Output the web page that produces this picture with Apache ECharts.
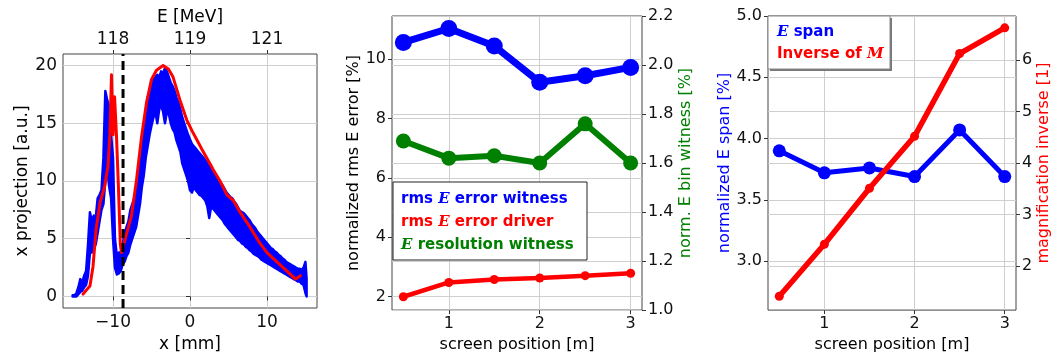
<!DOCTYPE html>
<html><head><meta charset="utf-8">
<script src="https://cdn.jsdelivr.net/npm/echarts@6/dist/echarts.min.js"></script>
<style>html,body{margin:0;padding:0;background:#fff}#c{width:1062px;height:358px}</style>
</head><body><div id="c"></div>
<script>
// ---------- Panel 1: x projection (measured, noisy -> drawn as min/max band) ----------
const bandX = [-15.25,-15,-14.75,-14.5,-14.25,-14,-13.75,-13.5,-13.25,-13,-12.75,-12.5,-12.25,-12,-11.75,-11.5,-11.25,-11,-10.75,-10.5,-10.25,-10,-9.75,-9.5,-9.25,-9,-8.75,-8.5,-8.25,-8,-7.75,-7.5,-7.25,-7,-6.75,-6.5,-6.25,-6,-5.75,-5.5,-5.25,-5,-4.75,-4.5,-4.25,-4,-3.75,-3.5,-3.25,-3,-2.75,-2.5,-2.25,-2,-1.75,-1.5,-1.25,-1,-0.75,-0.5,-0.25,0,0.25,0.5,0.75,1,1.25,1.5,1.75,2,2.25,2.5,2.75,3,3.25,3.5,3.75,4,4.25,4.5,4.75,5,5.25,5.5,5.75,6,6.25,6.5,6.75,7,7.25,7.5,7.75,8,8.25,8.5,8.75,9,9.25,9.5,9.75,10,10.25,10.5,10.75,11,11.25,11.5,11.75,12,12.25,12.5,12.75,13,13.25,13.5,13.75,14,14.25,14.5,14.75,15,15.15];
const bandLow = [0,0,0,0.2,0.4,0.5,0.8,1.0,1.8,3.8,3.8,4.2,4.5,5.5,6.5,7.5,8.0,10.0,11.0,9.5,8.5,5.0,2.5,1.9,2.0,2.2,2.8,3.0,3.5,3.8,4.5,5.0,5.5,6.0,7.0,8.0,9.5,10.5,12.0,13.0,14.0,14.8,15.5,16.0,15.0,16.2,16.5,16.0,15.0,16.0,15.8,15.0,14.5,14.2,13.5,13.0,12.5,11.5,11.0,10.5,10.0,9.2,9.0,9.5,9.2,9.0,8.8,8.7,8.5,8.3,7.8,6.8,7.8,7.6,7.4,7.2,7.0,6.8,6.6,6.3,6.1,5.9,5.7,5.5,5.3,5.1,4.9,4.8,4.6,4.5,4.3,4.2,4.0,3.9,3.7,3.6,3.5,3.4,3.2,3.1,3.0,2.9,2.8,2.7,2.6,2.5,2.4,2.3,2.2,2.1,2.0,1.9,1.8,1.7,1.6,1.5,1.4,1.3,1.3,1.1,1.0,0.3,0];
const bandHigh = [0.1,0.1,0.3,0.8,1.5,1.2,1.8,2.2,4.5,7.3,6.5,7.0,6.8,8.5,8.8,9.2,12.0,17.8,17.0,16.5,14.0,12.0,5.0,3.5,3.8,3.8,4.5,5.5,6.0,6.5,7.5,8.0,8.5,9.0,10.0,11.5,13.0,14.5,16.0,17.2,17.8,18.5,18.8,19.0,19.2,19.0,19.5,19.3,19.8,19.5,19.0,18.5,18.2,17.8,17.2,16.8,16.2,15.5,15.0,14.5,14.0,13.6,13.2,13.0,12.8,12.6,12.4,12.2,12.0,11.8,11.5,11.3,11.0,10.8,10.6,10.3,10.0,9.8,9.6,9.3,9.0,8.8,8.6,8.5,8.2,8.0,7.7,7.4,7.3,7.2,7.0,6.8,6.6,6.3,6.1,5.9,5.6,5.4,5.2,5.0,4.8,4.6,4.4,4.2,4.1,3.9,3.8,3.6,3.5,3.3,3.2,3.0,2.9,2.8,2.7,2.6,2.5,2.4,2.4,2.3,2.5,3.0,1.5,0.2];
const projRed = [[-13.9,0.2],[-13.4,0.6],[-13.0,0.9],[-12.6,2.6],[-12.2,5.8],[-11.7,8.1],[-11.1,9.5],[-10.65,11.3],[-10.4,14.2],[-10.2,19.2],[-10.0,14.0],[-9.8,17.3],[-9.55,13.9],[-9.3,9.5],[-9.05,4.5],[-8.9,3.8],[-8.25,5.4],[-7.6,7.0],[-6.95,10.1],[-6.3,13.8],[-5.65,16.8],[-5.0,18.8],[-4.35,19.6],[-3.5,20.0],[-2.8,19.7],[-2.2,19.0],[-1.3,17.0],[-0.43,15.3],[0.3,14.3],[0.87,13.6],[1.5,12.8],[2.6,11.5],[3.0,11.0],[3.9,10.0],[4.8,8.8],[5.65,8.3],[6.5,7.3],[7.8,6.0],[8.9,4.8],[10,3.8],[11.3,3.0],[12.6,2.2],[13.7,1.5],[14.35,1.8]];
const cutX = -8.7;
const projXTicks = [-10, 0, 10];
const projYTicks = [0, 5, 10, 15, 20];
const energyTickPos = [-10, 0, 10];
const energyTickLabels = ['118', '119', '121'];

// ---------- Panel 2: rms error ----------
const screenPos = [0.5, 1, 1.5, 2, 2.5, 3];
const rmsWitness = [10.56, 11.03, 10.44, 9.22, 9.44, 9.72];
const rmsDriver = [2.0, 2.48, 2.58, 2.63, 2.71, 2.79];
const resWitness = [1.69, 1.62, 1.63, 1.60, 1.76, 1.60];
const midLeftTicks = [2, 4, 6, 8, 10];
const midRightTicks = [1.0, 1.2, 1.4, 1.6, 1.8, 2.0, 2.2];
const screenTicks = [1, 2, 3];

// ---------- Panel 3: span / magnification ----------
const eSpan = [3.9, 3.72, 3.76, 3.69, 4.07, 3.69];
const invM = [1.41, 2.42, 3.51, 4.52, 6.13, 6.63];
const spanTicks = [3.0, 3.5, 4.0, 4.5, 5.0];
const magTicks = [2, 3, 4, 5, 6];

const BLUE = '#0000ff', RED = '#ff0000', GREEN = '#008000';
const F = 'DejaVu Sans';
const gridColor = '#cfcfcf';
const pair = (xs, ys) => xs.map((x, i) => [x, ys[i]]);

function valAxis(o) {
  const fs = o.fs || 16;
  return {
    type: 'value', gridIndex: o.grid, position: o.position, min: o.min, max: o.max,
    name: o.name || '', nameLocation: 'middle', nameGap: o.nameGap || 30,
    nameTextStyle: { fontFamily: F, fontSize: fs, color: o.nameColor || '#000' },
    axisLine: { show: false },
    axisTick: { show: true, inside: false, length: 4, customValues: o.ticks, lineStyle: { color: '#333', width: 1 } },
    axisLabel: { show: true, customValues: o.ticks, margin: 6, fontFamily: F, fontSize: fs, color: '#111',
      formatter: o.fmt || (v => String(v)) },
    splitLine: { show: o.split !== false, lineStyle: { color: gridColor, width: 1 } }
  };
}

const lineBase = { type: 'line', animation: false, silent: true };

const option = {
  animation: false,
  backgroundColor: '#fff',
  grid: [
    { left: 63, top: 54, width: 254, height: 254, show: true, borderColor: '#444', borderWidth: 1, backgroundColor: 'transparent' },
    { left: 392, top: 16, width: 250, height: 297, show: true, borderColor: '#444', borderWidth: 1, backgroundColor: 'transparent' },
    { left: 768, top: 16, width: 248, height: 297, show: true, borderColor: '#444', borderWidth: 1, backgroundColor: 'transparent' }
  ],
  xAxis: [
    valAxis({ grid: 0, position: 'bottom', min: -16.5, max: 16.5, ticks: projXTicks, name: 'x [mm]', nameGap: 22, fs: 17,
      fmt: v => (v < 0 ? '\u2212' + Math.abs(v) : String(v)) }),
    valAxis({ grid: 0, position: 'top', min: -16.5, max: 16.5, ticks: energyTickPos, name: 'E [MeV]', nameGap: 26, fs: 17, split: false,
      fmt: v => energyTickLabels[energyTickPos.indexOf(v)] }),
    valAxis({ grid: 1, position: 'bottom', min: 0.375, max: 3.125, ticks: screenTicks, name: 'screen position [m]', nameGap: 26 }),
    valAxis({ grid: 2, position: 'bottom', min: 0.375, max: 3.125, ticks: screenTicks, name: 'screen position [m]', nameGap: 26 })
  ],
  yAxis: [
    valAxis({ grid: 0, position: 'left', min: -1, max: 21, ticks: projYTicks, name: 'x projection [a.u.]', nameGap: 30, fs: 17 }),
    valAxis({ grid: 1, position: 'left', min: 1.55, max: 11.45, ticks: midLeftTicks, name: 'normalized rms E error [%]', nameGap: 29 }),
    valAxis({ grid: 1, position: 'right', min: 1.0, max: 2.2, ticks: midRightTicks, name: 'norm. E bin witness [%]', nameGap: 34, nameColor: GREEN,
      fmt: v => v.toFixed(1) }),
    valAxis({ grid: 2, position: 'left', min: 2.6, max: 5.0, ticks: spanTicks, name: 'normalized E span [%]', nameGap: 35, nameColor: BLUE,
      fmt: v => v.toFixed(1) }),
    valAxis({ grid: 2, position: 'right', min: 1.14, max: 6.86, ticks: magTicks, name: 'magnification inverse [1]', nameGap: 20, nameColor: RED })
  ],
  series: [
    {
      type: 'custom', coordinateSystem: 'cartesian2d', xAxisIndex: 0, yAxisIndex: 0, silent: true, animation: false, z: 2,
      clip: true,
      data: [[bandX[0], bandLow[0]]],
      renderItem: function (params, api) {
        const pts = [];
        for (let i = 0; i < bandX.length; i++) pts.push(api.coord([bandX[i], bandHigh[i]]));
        for (let i = bandX.length - 1; i >= 0; i--) pts.push(api.coord([bandX[i], bandLow[i]]));
        return { type: 'polygon', shape: { points: pts }, style: { fill: BLUE, stroke: BLUE, lineWidth: 2.5, lineJoin: 'round' } };
      }
    },
    Object.assign({}, lineBase, { xAxisIndex: 0, yAxisIndex: 0, data: projRed, symbol: 'none',
      lineStyle: { color: RED, width: 3, join: 'round', cap: 'round' }, z: 3 }),
    Object.assign({}, lineBase, { xAxisIndex: 0, yAxisIndex: 0, data: [[cutX, -1], [cutX, 21]], symbol: 'none',
      lineStyle: { color: '#000', width: 3, type: [9, 5] }, z: 4 }),

    Object.assign({}, lineBase, { xAxisIndex: 2, yAxisIndex: 1, data: pair(screenPos, rmsWitness), symbol: 'circle', symbolSize: 17,
      itemStyle: { color: BLUE }, lineStyle: { color: BLUE, width: 7, join: 'round' }, z: 2 }),
    Object.assign({}, lineBase, { xAxisIndex: 2, yAxisIndex: 1, data: pair(screenPos, rmsDriver), symbol: 'circle', symbolSize: 9,
      itemStyle: { color: RED }, lineStyle: { color: RED, width: 4.5, join: 'round' }, z: 2 }),
    Object.assign({}, lineBase, { xAxisIndex: 2, yAxisIndex: 2, data: pair(screenPos, resWitness), symbol: 'circle', symbolSize: 15,
      itemStyle: { color: GREEN }, lineStyle: { color: GREEN, width: 6, join: 'round' }, z: 3 }),

    Object.assign({}, lineBase, { xAxisIndex: 3, yAxisIndex: 3, data: pair(screenPos, eSpan), symbol: 'circle', symbolSize: 13,
      itemStyle: { color: BLUE }, lineStyle: { color: BLUE, width: 5, join: 'round' }, z: 2 }),
    Object.assign({}, lineBase, { xAxisIndex: 3, yAxisIndex: 4, data: pair(screenPos, invM), symbol: 'circle', symbolSize: 9,
      itemStyle: { color: RED }, lineStyle: { color: RED, width: 5.5, join: 'round' }, z: 3 })
  ],
  graphic: [
    { type: 'rect', shape: { x: 393, y: 182, width: 194, height: 78 }, z: 100,
      style: { fill: '#fff', stroke: '#222', lineWidth: 1 } },
    { type: 'text', x: 401, y: 199, z: 101, style: { text: '{a|rms }{e|E}{a| error witness}', verticalAlign: 'middle',
      rich: { a: { fill: BLUE, fontFamily: F, fontWeight: 'bold', fontSize: 15 }, e: { fill: BLUE, fontFamily: 'DejaVu Serif', fontWeight: 'bold', fontStyle: 'italic', fontSize: 15 } } } },
    { type: 'text', x: 401, y: 222, z: 101, style: { text: '{a|rms }{e|E}{a| error driver}', verticalAlign: 'middle',
      rich: { a: { fill: RED, fontFamily: F, fontWeight: 'bold', fontSize: 15 }, e: { fill: RED, fontFamily: 'DejaVu Serif', fontWeight: 'bold', fontStyle: 'italic', fontSize: 15 } } } },
    { type: 'text', x: 401, y: 245, z: 101, style: { text: '{e|E}{a| resolution witness}', verticalAlign: 'middle',
      rich: { a: { fill: GREEN, fontFamily: F, fontWeight: 'bold', fontSize: 15 }, e: { fill: GREEN, fontFamily: 'DejaVu Serif', fontWeight: 'bold', fontStyle: 'italic', fontSize: 15 } } } },

    { type: 'rect', shape: { x: 770, y: 18, width: 122, height: 53 }, z: 99, style: { fill: '#777' } },
    { type: 'rect', shape: { x: 768, y: 16, width: 122, height: 53 }, z: 100,
      style: { fill: '#fff', stroke: '#888', lineWidth: 1 } },
    { type: 'text', x: 777, y: 32, z: 101, style: { text: '{e|E}{a| span}', verticalAlign: 'middle',
      rich: { a: { fill: BLUE, fontFamily: F, fontWeight: 'bold', fontSize: 15 }, e: { fill: BLUE, fontFamily: 'DejaVu Serif', fontWeight: 'bold', fontStyle: 'italic', fontSize: 15 } } } },
    { type: 'text', x: 777, y: 54, z: 101, style: { text: '{a|Inverse of }{e|M}', verticalAlign: 'middle',
      rich: { a: { fill: RED, fontFamily: F, fontWeight: 'bold', fontSize: 15 }, e: { fill: RED, fontFamily: 'DejaVu Serif', fontWeight: 'bold', fontStyle: 'italic', fontSize: 15 } } } }
  ]
};

const chart = echarts.init(document.getElementById('c'), null, { renderer: 'canvas' });
chart.setOption(option);
</script></body></html>
